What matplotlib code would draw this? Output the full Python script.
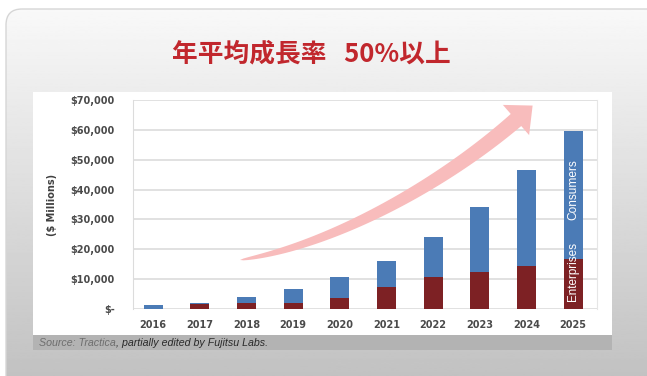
import numpy as np
import matplotlib
matplotlib.use("Agg")
import matplotlib.pyplot as plt
from matplotlib.patches import FancyBboxPatch, Rectangle, Polygon

# data ($ Millions)
years = ["2016", "2017", "2018", "2019", "2020", "2021", "2022", "2023", "2024", "2025"]
total = [1300, 2100, 4100, 6700, 10600, 16100, 24000, 34300, 46500, 59700]
enterprises = [150, 1600, 1900, 2000, 3800, 7500, 10700, 12500, 14500, 16600]
consumers = [t - e for t, e in zip(total, enterprises)]
yticks = [0, 10000, 20000, 30000, 40000, 50000, 60000, 70000]
ytick_labels = ["$-", "$10,000", "$20,000", "$30,000", "$40,000", "$50,000", "$60,000", "$70,000"]

W, H = 647, 376
fig = plt.figure(figsize=(W / 100, H / 100), dpi=100)
fig.patch.set_facecolor("white")

# slide background with vertical gradient and rounded corners
bg = fig.add_axes([0, 0, 1, 1])
bg.set_xlim(0, W)
bg.set_ylim(H, 0)
bg.axis("off")
grad = np.linspace(0.98, 0.76, 256).reshape(-1, 1)
img = bg.imshow(grad, cmap="gray", vmin=0, vmax=1, extent=[0, W, H, 0], aspect="auto")
slide = FancyBboxPatch((6, 9), W + 20, H + 20, boxstyle="round,pad=0,rounding_size=16",
                       facecolor="none", edgecolor="#d6d6d6", lw=1)
bg.add_patch(slide)
img.set_clip_path(slide)

# chart picture area and caption bar
bg.add_patch(Rectangle((33, 92), 579, 243, facecolor="white", edgecolor="none"))
bg.add_patch(Rectangle((33, 335), 579, 15, facecolor="#b3b3b3", edgecolor="none"))
src = bg.text(39, 343, "Source: Tractica", fontsize=7.7, style="italic", color="#6e6e6e",
              family="Liberation Sans", va="center", ha="left")
fig.canvas.draw()
ext = src.get_window_extent()
x_next = bg.transData.inverted().transform((ext.x1, ext.y0))[0]
bg.text(x_next, 343, ", partially edited by Fujitsu Labs.", fontsize=7.7, style="italic",
        color="#2a2a2a", family="Liberation Sans", va="center", ha="left")

# title
bg.text(311, 54, "年平均成長率   50%以上", fontsize=18.5, fontweight="bold", color="#c1272d",
        family=["Noto Sans CJK JP", "DejaVu Sans"], ha="center", va="center")

# chart axes
ax = fig.add_axes([133 / W, 1 - 309 / H, (597 - 133) / W, (309 - 100) / H])
ax.set_facecolor("none")
x = np.arange(len(years))
ax.bar(x, enterprises, width=0.41, color="#7d2124", zorder=3)
ax.bar(x, consumers, width=0.41, bottom=enterprises, color="#4b7bb6", zorder=3)
ax.set_xlim(-0.43, 9.51)
ax.set_ylim(0, 70000)
ax.set_yticks(yticks)
ax.set_yticklabels(ytick_labels)
ax.set_xticks(x)
ax.set_xticklabels(years)
ax.tick_params(length=0, labelsize=7, labelcolor="#4a4a4a", pad=13)
ax.tick_params(axis="x", pad=8)
for lab in ax.get_xticklabels() + ax.get_yticklabels():
    lab.set_fontweight("bold")
ax.grid(axis="y", color="#dedede", lw=1.3, zorder=0)
for s in ["top", "bottom"]:
    ax.spines[s].set_visible(False)
ax.spines["left"].set_color("#dcdcdc")
ax.spines["right"].set_color("#e6e6e6")
ax.set_ylabel("($ Millions)", fontsize=7, fontweight="bold", color="#404040", labelpad=10)

# labels inside the last bar
ax.text(9, 39900, "Consumers", rotation=90, color="white", fontsize=8.6,
        family="Liberation Sans", ha="center", va="center", zorder=4)
ax.text(9, 12400, "Enterprises", rotation=90, color="white", fontsize=8.4,
        family="Liberation Sans", ha="center", va="center", zorder=4)

# growth arrow: cubic curve with tapering body, built in pixel space
def px(xp, yp):
    return np.array([xp, H - yp], dtype=float)

P = [px(240, 260), px(330, 246), px(440, 186), px(516, 120)]
t = np.linspace(0, 1, 80)[:, None]
curve = ((1 - t) ** 3) * P[0] + 3 * ((1 - t) ** 2) * t * P[1] + 3 * (1 - t) * t ** 2 * P[2] + t ** 3 * P[3]
deriv = 3 * (1 - t) ** 2 * (P[1] - P[0]) + 6 * (1 - t) * t * (P[2] - P[1]) + 3 * t ** 2 * (P[3] - P[2])
tang = deriv / np.linalg.norm(deriv, axis=1, keepdims=True)
norm = np.column_stack([-tang[:, 1], tang[:, 0]])
half = 8.0 * np.sqrt(t)
upper = curve + norm * half
lower = curve - norm * half
d = tang[-1]
nrm = norm[-1]
tip = P[3] + 22 * d
head = [P[3] + 20 * nrm, tip, P[3] - 20 * nrm]
pts = np.vstack([upper, head, lower[::-1]])
pts_data = ax.transData.inverted().transform(pts)
ax.add_patch(Polygon(pts_data, closed=True, facecolor="#f8bcbc", edgecolor="none", zorder=5))

fig.savefig("out.png", dpi=100)
